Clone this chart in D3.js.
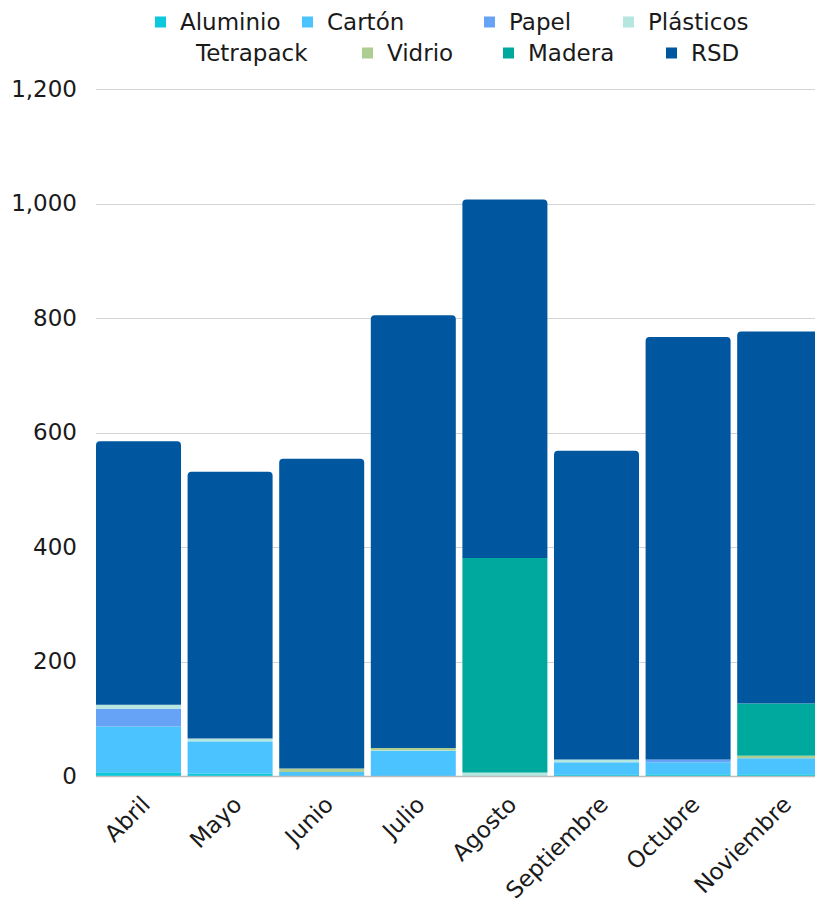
<!DOCTYPE html>
<html><head><meta charset="utf-8">
<script src="https://cdn.jsdelivr.net/npm/d3@7"></script>
<style>
html,body{margin:0;padding:0;background:#fff;}
svg text{font-family:"DejaVu Sans",sans-serif;fill:#1a1a1a;}
</style></head>
<body><svg id="c" width="815" height="906"></svg>
<script>
const months = ["Abril","Mayo","Junio","Julio","Agosto","Septiembre","Octubre","Noviembre"];
const seriesNames = ["Aluminio","Cartón","Papel","Plásticos","Tetrapack","Vidrio","Madera","RSD"];
const seriesColors = ["#0CC8DC","#4BC3FF","#66A3F7","#B5E6DF","#FFFFFF","#ADCD91","#00A99D","#0057A0"];
const aluminio  = [6.5, 4.5, 0, 0, 0, 2, 3, 3];
const carton    = [80, 56, 7, 44, 0, 22, 21, 28];
const papel     = [31, 0, 0, 0, 0, 0, 5, 0];
const plasticos = [7, 5, 0, 1, 6, 5, 0, 0];
const tetrapack = [0, 0, 0, 0, 0, 0, 0, 0];
const vidrio    = [0, 0, 6, 4, 0, 0, 0, 4.5];
const madera    = [0, 0, 0, 0, 375, 0, 0, 91];
const rsd       = [460, 466, 541, 756, 626, 539, 738, 650];
const yTicks = [0, 200, 400, 600, 800, 1000, 1200];

const seriesVals = [aluminio, carton, papel, plasticos, tetrapack, vidrio, madera, rsd];
const rows = months.map((m, i) => {
  const o = {month: m};
  seriesNames.forEach((s, j) => o[s] = seriesVals[j][i]);
  return o;
});

const svg = d3.select("#c");
const y = d3.scaleLinear().domain([0, 1200]).range([776, 89]);
const x = d3.scaleBand().domain(months).range([92.7, 825.5]).paddingInner(0.072).paddingOuter(0.036);

svg.append("g").selectAll("line").data(yTicks.filter(d => d > 0)).join("line")
  .attr("x1", 96).attr("x2", 815)
  .attr("y1", d => Math.round(y(d)) + 0.5).attr("y2", d => Math.round(y(d)) + 0.5)
  .attr("stroke", "#d4d4d4").attr("stroke-width", 1);

const yAxis = d3.axisLeft(y).tickValues(yTicks).tickFormat(d3.format(",")).tickSize(0).tickPadding(0);
const ya = svg.append("g").attr("transform", "translate(77,0)").call(yAxis);
ya.select(".domain").remove();
ya.selectAll("text").style("font-size", "23px").attr("font-family", "DejaVu Sans").attr("fill", "#1a1a1a");

const stack = d3.stack().keys(seriesNames)(rows);
const color = d3.scaleOrdinal().domain(seriesNames).range(seriesColors);
const topIdx = seriesNames.length - 1;
const r = 4;
stack.forEach((layer, li) => {
  const g = svg.append("g").attr("fill", color(layer.key));
  layer.forEach((d, i) => {
    if (d[1] - d[0] <= 0) return;
    const x0 = x(d.data.month), w = x.bandwidth();
    const yTop = y(d[1]), yBot = y(d[0]);
    if (li === topIdx) {
      const p = d3.path();
      p.moveTo(x0, yBot);
      p.lineTo(x0, yTop + r);
      p.quadraticCurveTo(x0, yTop, x0 + r, yTop);
      p.lineTo(x0 + w - r, yTop);
      p.quadraticCurveTo(x0 + w, yTop, x0 + w, yTop + r);
      p.lineTo(x0 + w, yBot);
      p.closePath();
      g.append("path").attr("d", p.toString());
    } else {
      g.append("rect").attr("x", x0).attr("width", w).attr("y", yTop).attr("height", yBot - yTop);
    }
  });
});

svg.append("line").attr("x1", 96).attr("x2", 815).attr("y1", 776.5).attr("y2", 776.5)
  .attr("stroke", "#bdbdbd").attr("stroke-width", 1.5);

svg.append("g").selectAll("text").data(months).join("text")
  .attr("text-anchor", "end")
  .attr("transform", d => `translate(${x(d) + x.bandwidth() / 2 + 13},${806}) rotate(-45)`)
  .style("font-size", "23px")
  .text(d => d);

const legendPos = [
  {x: 155, y: 22}, {x: 302, y: 22}, {x: 484, y: 22}, {x: 623, y: 22},
  {x: 171, y: 53}, {x: 362, y: 53}, {x: 503, y: 53}, {x: 666, y: 53}
];
const lg = svg.append("g").selectAll("g").data(seriesNames).join("g")
  .attr("transform", (d, i) => `translate(${legendPos[i].x},${legendPos[i].y})`);
lg.append("rect").attr("x", 0).attr("y", -5.5).attr("width", 11).attr("height", 11)
  .attr("fill", d => color(d));
lg.append("text").attr("x", 25).attr("y", 0).attr("dy", "0.35em").style("font-size", "23px").text(d => d);
</script></body></html>
